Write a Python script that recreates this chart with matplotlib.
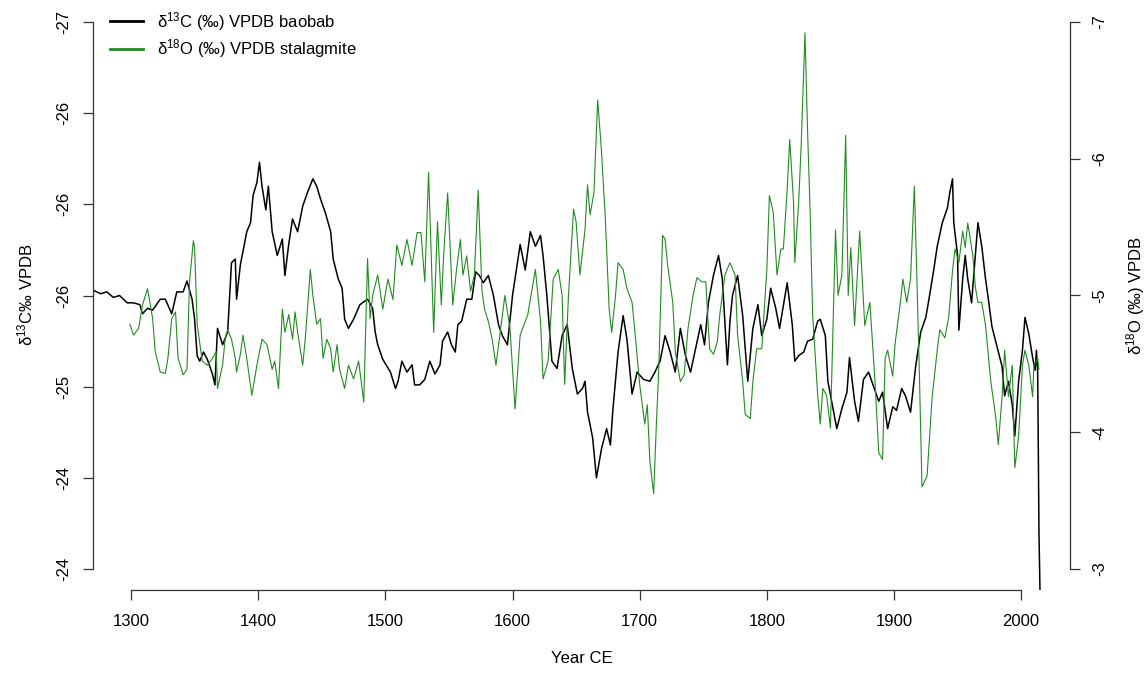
import matplotlib
matplotlib.use("Agg")
import matplotlib.pyplot as plt
from matplotlib.lines import Line2D

# --- baobab tree-ring d13C record (per mil VPDB) ---
baobab_year = [
    1270, 1276, 1281, 1286, 1291, 1297, 1302, 1307, 1309, 1313,
    1317, 1323, 1327, 1332, 1336, 1341, 1344, 1348, 1350, 1352,
    1354, 1357, 1360, 1364, 1366, 1368, 1372, 1376, 1379, 1382,
    1383, 1386, 1388, 1391, 1394, 1396, 1399, 1401, 1403, 1406,
    1408, 1411, 1415, 1419, 1421, 1424, 1427, 1431, 1435, 1439,
    1443, 1446, 1449, 1453, 1457, 1459, 1463, 1466, 1468, 1471,
    1475, 1480, 1486, 1490, 1492, 1494, 1498, 1504, 1508, 1510,
    1513, 1517, 1521, 1523, 1527, 1531, 1535, 1539, 1543, 1545,
    1549, 1552, 1555, 1557, 1560, 1564, 1568, 1571, 1574, 1577,
    1581, 1585, 1589, 1592, 1596, 1600, 1606, 1610, 1614, 1618,
    1622, 1624, 1627, 1631, 1635, 1639, 1643, 1647, 1651, 1655,
    1657, 1659, 1663, 1666, 1670, 1674, 1677, 1679, 1683, 1687,
    1690, 1694, 1698, 1703, 1708, 1712, 1716, 1720, 1724, 1728,
    1732, 1736, 1740, 1744, 1748, 1751, 1754, 1758, 1762, 1765,
    1769, 1771, 1773, 1777, 1781, 1785, 1789, 1793, 1796, 1800,
    1803, 1807, 1810, 1816, 1820, 1822, 1825, 1829, 1832, 1836,
    1840, 1842, 1846, 1848, 1852, 1855, 1859, 1863, 1865, 1869,
    1872, 1876, 1880, 1884, 1888, 1891, 1895, 1899, 1902, 1906,
    1909, 1913, 1917, 1921, 1925, 1927, 1931, 1934, 1938, 1942,
    1944, 1946, 1947, 1950, 1951, 1954, 1956, 1958, 1961, 1964,
    1966, 1969, 1972, 1974, 1977, 1981, 1985, 1987, 1990, 1993,
    1995, 1998, 2001, 2003, 2006, 2009, 2011, 2012, 2013, 2014,
    2015,
]
baobab_d13c = [
    -25.53, -25.51, -25.52, -25.49, -25.50, -25.46, -25.46, -25.45, -25.40, -25.43,
    -25.42, -25.48, -25.48, -25.40, -25.52, -25.52, -25.58, -25.48, -25.37, -25.17,
    -25.14, -25.19, -25.15, -25.07, -25.01, -25.32, -25.23, -25.30, -25.68, -25.70,
    -25.48, -25.67, -25.74, -25.85, -25.90, -26.05, -26.12, -26.23, -26.10, -25.97,
    -26.10, -25.85, -25.72, -25.81, -25.61, -25.78, -25.92, -25.85, -25.99, -26.07,
    -26.14, -26.10, -26.03, -25.95, -25.85, -25.70, -25.59, -25.54, -25.37, -25.32,
    -25.37, -25.45, -25.48, -25.43, -25.30, -25.23, -25.15, -25.08, -24.99, -25.03,
    -25.14, -25.08, -25.12, -25.01, -25.01, -25.04, -25.14, -25.07, -25.12, -25.25,
    -25.30, -25.23, -25.19, -25.34, -25.36, -25.48, -25.48, -25.63, -25.61, -25.57,
    -25.61, -25.50, -25.34, -25.28, -25.23, -25.50, -25.78, -25.64, -25.85, -25.77,
    -25.83, -25.72, -25.50, -25.14, -25.10, -25.28, -25.34, -25.10, -24.96, -24.99,
    -25.03, -24.86, -24.72, -24.50, -24.66, -24.77, -24.68, -24.88, -25.19, -25.39,
    -25.26, -24.96, -25.08, -25.04, -25.03, -25.08, -25.14, -25.28, -25.19, -25.08,
    -25.32, -25.17, -25.08, -25.21, -25.34, -25.23, -25.46, -25.61, -25.72, -25.59,
    -25.12, -25.36, -25.50, -25.61, -25.39, -25.03, -25.32, -25.45, -25.28, -25.37,
    -25.54, -25.43, -25.32, -25.57, -25.34, -25.14, -25.17, -25.19, -25.25, -25.26,
    -25.36, -25.37, -25.28, -25.03, -24.88, -24.77, -24.88, -24.97, -25.16, -24.92,
    -24.81, -25.04, -25.08, -25.00, -24.92, -24.97, -24.77, -24.89, -24.87, -24.99,
    -24.95, -24.86, -25.11, -25.30, -25.38, -25.46, -25.63, -25.77, -25.90, -25.98,
    -26.07, -26.14, -25.90, -25.72, -25.31, -25.59, -25.72, -25.59, -25.46, -25.72,
    -25.90, -25.77, -25.59, -25.49, -25.33, -25.22, -25.11, -24.95, -25.03, -24.90,
    -24.73, -25.03, -25.20, -25.38, -25.29, -25.16, -25.09, -25.20, -25.08, -24.20,
    -23.80,
]

# --- stalagmite d18O record (per mil VPDB) ---
stalag_year = [
    1299, 1302, 1306, 1309, 1313, 1317, 1319, 1323, 1327, 1329,
    1332, 1335, 1337, 1341, 1344, 1346, 1349, 1350, 1352, 1356,
    1360, 1364, 1367, 1368, 1372, 1374, 1376, 1379, 1382, 1383,
    1386, 1388, 1391, 1395, 1399, 1403, 1407, 1411, 1413, 1416,
    1419, 1421, 1424, 1427, 1429, 1431, 1435, 1437, 1441, 1443,
    1446, 1449, 1451, 1454, 1457, 1459, 1462, 1464, 1468, 1471,
    1475, 1479, 1483, 1486, 1488, 1490, 1494, 1498, 1502, 1506,
    1509, 1513, 1517, 1521, 1525, 1528, 1531, 1534, 1538, 1541,
    1544, 1546, 1549, 1553, 1556, 1559, 1561, 1564, 1567, 1570,
    1573, 1576, 1578, 1581, 1584, 1587,
    1590, 1594, 1598, 1602, 1606, 1612, 1618, 1622, 1624, 1628,
    1632, 1636, 1639, 1641, 1644, 1648, 1650, 1653, 1657, 1659,
    1661, 1664, 1667, 1670, 1673, 1676, 1678, 1681, 1683, 1687,
    1690, 1694, 1697, 1700, 1704, 1706, 1708, 1711, 1713, 1715,
    1718, 1720, 1722, 1726, 1728, 1732, 1735, 1738, 1742, 1745,
    1749, 1752, 1755, 1758, 1761, 1763, 1767, 1771, 1775, 1777,
    1781, 1783, 1787, 1789, 1792, 1796, 1800, 1802, 1805, 1808,
    1811, 1813, 1816, 1818, 1821, 1822, 1825, 1827, 1830, 1832,
    1834, 1836, 1840, 1842, 1844, 1847, 1850, 1852, 1854, 1856,
    1859, 1862, 1864,
    1866, 1869, 1873, 1877, 1881, 1885, 1888, 1891, 1893, 1895,
    1899, 1901, 1905, 1907, 1910, 1913, 1916, 1918, 1920, 1922,
    1926, 1930, 1934, 1936, 1940, 1943, 1946, 1948, 1951, 1954,
    1956, 1958, 1962, 1964, 1966, 1969, 1972, 1976, 1980, 1982,
    1985, 1987, 1990, 1993, 1995, 1998, 2001, 2003, 2006, 2009,
    2010, 2013, 2014,
]
stalag_d18o = [
    -4.79, -4.71, -4.76, -4.93, -5.05, -4.83, -4.59, -4.44, -4.43, -4.54,
    -4.83, -4.88, -4.54, -4.42, -4.46, -5.10, -5.40, -5.35, -4.79, -4.52,
    -4.49, -4.54, -4.59, -4.32, -4.49, -4.68, -4.75, -4.68, -4.54, -4.44,
    -4.57, -4.71, -4.54, -4.27, -4.49, -4.68, -4.64, -4.46, -4.52, -4.32,
    -4.90, -4.73, -4.86, -4.68, -4.88, -4.73, -4.49, -4.68, -5.19, -5.00,
    -4.79, -4.83, -4.54, -4.68, -4.61, -4.44, -4.64, -4.46, -4.32, -4.49,
    -4.39, -4.52, -4.22, -5.27, -4.83, -5.00, -5.15, -4.90, -5.12, -4.97,
    -5.37, -5.22, -5.41, -5.22, -5.46, -5.46, -5.10, -5.90, -4.73, -5.54,
    -4.93, -5.32, -5.75, -4.93, -5.19, -5.41, -5.15, -5.29, -5.03, -5.15,
    -5.77, -5.03, -4.90, -4.81, -4.68, -4.49,
    -4.71, -5.00, -4.76, -4.17, -4.71, -4.86, -5.19, -4.81, -4.39, -4.52,
    -5.12, -5.19, -5.00, -4.35, -5.00, -5.63, -5.54, -5.15, -5.48, -5.81,
    -5.59, -5.75, -6.43, -6.05, -5.56, -4.90, -4.73, -5.00, -5.24, -5.19,
    -5.05, -4.95, -4.66, -4.35, -4.06, -4.20, -3.79, -3.55, -4.03, -4.46,
    -5.44, -5.41, -5.22, -4.95, -4.59, -4.37, -4.42, -4.76, -5.00, -5.13,
    -5.10, -5.10, -4.61, -4.57, -4.66, -4.86, -5.15, -5.24, -5.15, -4.71,
    -4.37, -4.13, -4.10, -4.37, -4.61, -4.61, -5.19, -5.73, -5.61, -5.15,
    -5.34, -5.34, -5.78, -6.14, -5.68, -5.24, -5.68, -6.10, -6.92, -6.21,
    -5.63, -4.86, -4.27, -4.06, -4.32, -4.27, -4.03, -4.76, -5.48, -5.00,
    -5.15, -6.17, -5.00,
    -5.35, -4.78, -5.47, -4.78, -4.95, -4.38, -3.85, -3.80, -4.54, -4.60,
    -4.41, -4.66, -4.95, -5.12, -4.95, -5.12, -5.80, -5.12, -4.41, -3.60,
    -3.68, -4.26, -4.60, -4.75, -4.69, -4.84, -5.18, -5.34, -5.24, -5.47,
    -5.35, -5.53, -5.29, -5.06, -4.95, -4.95, -4.78, -4.38, -4.11, -3.91,
    -4.26, -4.60, -4.26, -4.49, -3.74, -3.97, -4.49, -4.60, -4.49, -4.26,
    -4.49, -4.54, -4.46,
]

# --- axis ticks and labels ---
year_ticks = [1300, 1400, 1500, 1600, 1700, 1800, 1900, 2000]
c13_ticks = [-27, -26.5, -26, -25.5, -25, -24.5, -24]
c13_tick_labels = ["-27", "-26", "-26", "-26", "-25", "-24", "-24"]
o18_ticks = [-7, -6, -5, -4, -3]
o18_tick_labels = ["-7", "-6", "-5", "-4", "-3"]

series_labels = [r"δ$^{13}$C (‰) VPDB baobab", r"δ$^{18}$O (‰) VPDB stalagmite"]
series_colors = ["black", "#228B22"]

plt.rcParams["font.family"] = ["Liberation Sans", "DejaVu Sans"]
plt.rcParams["mathtext.fontset"] = "custom"
plt.rcParams["mathtext.rm"] = "Liberation Sans"
plt.rcParams["mathtext.it"] = "Liberation Sans:italic"
plt.rcParams["mathtext.bf"] = "Liberation Sans:bold"

W, H = 1147, 673
fig = plt.figure(figsize=(W / 100, H / 100), dpi=100)
fig.patch.set_facecolor("white")

ax = fig.add_axes([93 / W, 83 / H, 977 / W, 590 / H])
ax.patch.set_alpha(0)
ax.plot(baobab_year, baobab_d13c, color=series_colors[0], lw=1.1)
ax.set_xlim(1270.1, 2038.4)
ax.set_ylim(-23.885, -27.121)

ax2 = ax.twinx()
ax2.plot(stalag_year, stalag_d18o, color=series_colors[1], lw=0.8)
ax2.set_ylim(-2.846, -7.161)

axis_col = "#333333"
tick_font = 12

for s in ("top", "right"):
    ax.spines[s].set_visible(False)
for s in ("top", "left", "bottom"):
    ax2.spines[s].set_visible(False)
ax.spines["left"].set_bounds(-27, -24)
ax.spines["bottom"].set_bounds(1300, 2000)
ax2.spines["right"].set_bounds(-7, -3)
for sp in (ax.spines["left"], ax.spines["bottom"], ax2.spines["right"]):
    sp.set_color(axis_col)
    sp.set_linewidth(0.9)

ax.set_xticks(year_ticks)
ax.set_xticklabels([str(y) for y in year_ticks])
ax.set_yticks(c13_ticks)
ax.set_yticklabels(c13_tick_labels)
ax2.set_yticks(o18_ticks)
ax2.set_yticklabels(o18_tick_labels)

ax.tick_params(axis="x", direction="out", length=7, width=0.9, color=axis_col,
               labelsize=tick_font, pad=10)
ax.tick_params(axis="y", direction="out", length=7, width=0.9, color=axis_col,
               labelsize=tick_font, pad=9, labelrotation=90)
ax2.tick_params(axis="y", direction="out", length=7, width=0.9, color=axis_col,
                labelsize=tick_font, pad=9, labelrotation=90)
for lbl in ax.get_yticklabels() + ax2.get_yticklabels():
    lbl.set_va("center")

ax.set_xlabel("Year CE", fontsize=12)
ax.xaxis.set_label_coords(0.5, -0.104)
ax.set_ylabel(r"δ$^{13}$C‰ VPDB", fontsize=12)
ax.yaxis.set_label_coords(-0.0594, 0.5)
ax2.set_ylabel(r"δ$^{18}$O (‰) VPDB", fontsize=12)
ax2.yaxis.set_label_coords(1.0553, 0.5)

handles = [Line2D([], [], color=c, lw=2) for c in series_colors]
ax.legend(handles, series_labels, loc="upper left",
          bbox_to_anchor=(110 / W, 1 - 10 / H), bbox_transform=fig.transFigure,
          frameon=False, borderpad=0, borderaxespad=0, handlelength=2.0,
          handletextpad=0.8, labelspacing=0.25, fontsize=12)

fig.savefig("out.png", dpi=100, facecolor="white")
